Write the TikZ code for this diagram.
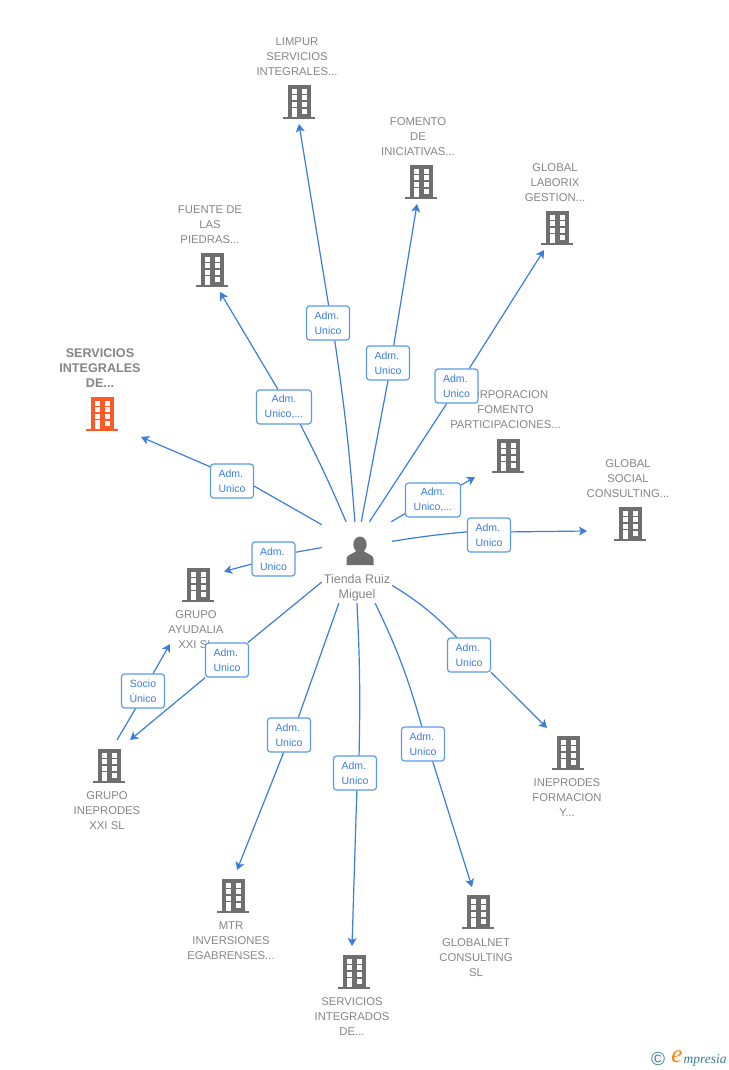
\documentclass[tikz,border=0pt]{standalone}
\usepackage{fontspec}
\setmainfont{Liberation Sans}
\newfontfamily\logofont{Liberation Serif}
\usetikzlibrary{arrows.meta,positioning}
\definecolor{linkblue}{HTML}{3B7DDD}
\definecolor{boxblue}{HTML}{5A9BEA}
\definecolor{iconGray}{HTML}{6F6F6F}
\definecolor{nameGray}{HTML}{858585}
\definecolor{mainOrange}{HTML}{FF5A26}
\definecolor{logoTeal}{HTML}{3A7C94}
\tikzset{
  bldg/.pic={
    \fill[pic actions] (-11.5,-17) rectangle (11.5,15);
    \fill[pic actions] (-16,14.7) rectangle (16,16.9);
    \foreach \wy in {-13.3,-6.6,0} {
      \fill[white] (-7,\wy) rectangle (-2,\wy+5);
      \fill[white] (2.5,\wy) rectangle (7.5,\wy+5);
    }
    \fill[white] (2.5,6.7) rectangle (7.5,11.7);
    \fill[white] (-7,6) rectangle (-2,14.7);
  },
  person/.pic={
    \fill[iconGray] (0,-6.5) ellipse (6.7 and 8);
    \fill[iconGray] (-13.5,14) -- (-13.5,8) .. controls (-13.5,3.5) and (-7,3) .. (-3.5,0) -- (3.5,0) .. controls (7,3) and (13.5,3.5) .. (13.5,8) -- (13.5,14) -- cycle;
  },
  nametxt/.style={align=center,text=nameGray,font=\fontsize{11.3}{15}\selectfont,inner sep=0pt,yshift=-1pt},
  admbox/.style={draw=boxblue,line width=1.2pt,rounded corners=3pt,fill=white,text=linkblue,
    minimum width=43pt,minimum height=34pt,inner sep=0pt,align=left,font=\fontsize{10.5}{15}\selectfont},
  admwide/.style={admbox,minimum width=55pt,align=center},
  link/.style={draw=linkblue,line width=1.2pt},
  linkto/.style={link,-{Stealth[length=8pt,width=9pt,inset=2pt]}},
}
\begin{document}
\begin{tikzpicture}[x=1pt,y=-1pt]
    \useasboundingbox (0,0) rectangle (728,1070);

    % Hub
    \node[minimum width=70pt,minimum height=81pt,inner sep=0pt] (hub) at (357,562.5) {};
    \pic at (360,551) {person};
    \node[nametxt,font=\fontsize{12.5}{15}\selectfont] (hubname) at (357,587) {Tienda Ruiz\\Miguel};

    % Companies
    \node[nametxt,font=\fontsize{12.6}{15}\selectfont\bfseries] (sinteg) at (100,367) {SERVICIOS\\INTEGRALES\\DE...};
    \pic[fill=mainOrange] at (102,414) {bldg};
    \node[nametxt] (limpur) at (297,56) {LIMPUR\\SERVICIOS\\INTEGRALES...};
    \pic[fill=iconGray] at (299,102) {bldg};
    \node[nametxt] (fomento) at (418,136) {FOMENTO\\DE\\INICIATIVAS...};
    \pic[fill=iconGray] at (421,182) {bldg};
    \node[nametxt] (laborix) at (555,182) {GLOBAL\\LABORIX\\GESTION...};
    \pic[fill=iconGray] at (557,228) {bldg};
    \node[nametxt] (fuente) at (210,224) {FUENTE DE\\LAS\\PIEDRAS...};
    \pic[fill=iconGray] at (212,270) {bldg};
    \node[nametxt] (corpora) at (505.5,409) {CORPORACION\\FOMENTO\\PARTICIPACIONES...};
    \pic[fill=iconGray] at (508,456) {bldg};
    \node[nametxt] (gsocial) at (628,478) {GLOBAL\\SOCIAL\\CONSULTING...};
    \pic[fill=iconGray] at (630,524) {bldg};
    \node[nametxt] (ayudalia) at (196,629) {GRUPO\\AYUDALIA\\XXI SL};
    \pic[fill=iconGray] at (198,585) {bldg};
    \node[nametxt] (gineprodes) at (107,810) {GRUPO\\INEPRODES\\XXI SL};
    \pic[fill=iconGray] at (109,766) {bldg};
    \node[nametxt] (mtr) at (231,940) {MTR\\INVERSIONES\\EGABRENSES...};
    \pic[fill=iconGray] at (233,896) {bldg};
    \node[nametxt] (sintegrados) at (352,1016) {SERVICIOS\\INTEGRADOS\\DE...};
    \pic[fill=iconGray] at (354,972) {bldg};
    \node[nametxt] (globalnet) at (476,957) {GLOBALNET\\CONSULTING\\SL};
    \pic[fill=iconGray] at (478,912) {bldg};
    \node[nametxt] (iformacion) at (567,797) {INEPRODES\\FORMACION\\Y...};
    \pic[fill=iconGray] at (568,753) {bldg};

    % Arrow ends
    \coordinate (endlimpur) at (299,124);
    \coordinate (endfomento) at (417,204);
    \coordinate (endlaborix) at (544,250);
    \coordinate (endfuente) at (220,292);
    \coordinate (endsinteg) at (141,437);
    \coordinate (endcorpora) at (475,477);
    \coordinate (endgsocial) at (587,531);
    \coordinate (endayudalia) at (224,571.5);
    \coordinate (endgineprodes) at (130,740);
    \coordinate (endmtr) at (237,870);
    \coordinate (endsintegrados) at (352,946);
    \coordinate (endglobalnet) at (472,887);
    \coordinate (endiformacion) at (547,728);
    \coordinate (startsocio) at (117,740);
    \coordinate (endsocio) at (170,644);

    % Labels
    \node[admbox] (lbllimpur) at (328,323) {Adm.\\Unico};
    \node[admbox] (lblfomento) at (388,363) {Adm.\\Unico};
    \node[admbox] (lbllaborix) at (456.5,386) {Adm.\\Unico};
    \node[admwide] (lblfuente) at (284,407) {Adm.\\Unico,...};
    \node[admbox] (lblsinteg) at (232,481) {Adm.\\Unico};
    \node[admwide] (lblcorpora) at (433,500) {Adm.\\Unico,...};
    \node[admbox] (lblgsocial) at (489,535) {Adm.\\Unico};
    \node[admbox] (lblayudalia) at (273.5,559) {Adm.\\Unico};
    \node[admbox] (lblgineprodes) at (227,660) {Adm.\\Unico};
    \node[admbox,align=center] (lblsocio) at (143,691) {Socio\\Único};
    \node[admbox] (lblmtr) at (289,735) {Adm.\\Unico};
    \node[admbox] (lblsintegrados) at (355,773) {Adm.\\Unico};
    \node[admbox] (lblglobalnet) at (423,744) {Adm.\\Unico};
    \node[admbox] (lbliformacion) at (469,655) {Adm.\\Unico};

    % Connectors
    \draw[link] (hub.93) to[bend right=2] (lbllimpur.291);
    \draw[linkto] (lbllimpur.88) -- (endlimpur);
    \draw[link] (hub.84) -- (lblfomento.270);
    \draw[linkto] (lblfomento.72) -- (endfomento);
    \draw[link] (hub.73.5) -- (lbllaborix.241);
    \draw[linkto] (lbllaborix.54) -- (endlaborix);
    \draw[link] (hub.105) to[bend right=2] (lblfuente.313);
    \draw[linkto] (lblfuente.109) -- (endfuente);
    \draw[link] (hub.133) -- (lblsinteg.347);
    \draw[linkto] (lblsinteg.147.5) -- (endsinteg);
    \draw[link] (hub.50) -- (lblcorpora.206.6);
    \draw[linkto] (lblcorpora.28) -- (endcorpora);
    \draw[link] (hub.31.6) to[bend left=2] (lblgsocial.172);
    \draw[linkto] (lblgsocial.8) -- (endgsocial);
    \draw[link] (hub.157.5) -- (lblayudalia.17.6);
    \draw[linkto] (lblayudalia.193) -- (endayudalia);
    \draw[link] (hub.209) -- (lblgineprodes.40.6);
    \draw[linkto] (lblgineprodes.219) -- (endgineprodes);
    \draw[link] (startsocio) -- (lblsocio.247.6);
    \draw[linkto] (lblsocio.60) -- (endsocio);
    \draw[link] (hub.246) -- (lblmtr.62);
    \draw[linkto] (lblmtr.253.6) -- (endmtr);
    \draw[link] (hub.270) to[bend left=2] (lblsintegrados.77);
    \draw[linkto] (lblsintegrados.276.6) -- (endsintegrados);
    \draw[link] (hub.294) to[bend left=5] (lblglobalnet.94);
    \draw[linkto] (lblglobalnet.299) -- (endglobalnet);
    \draw[link] (hub.327) to[bend left=7] (lbliformacion.125);
    \draw[linkto] (lbliformacion.322) -- (endiformacion);

    % Logo
    \node[inner sep=0pt,text=logoTeal,font=\fontsize{19}{19}\selectfont] (logoc) at (658,1059) {©};
    \node[inner sep=0pt,text=orange,font=\logofont\itshape\fontsize{25}{25}\selectfont] (logoe) at (677,1057) {e};
    \node[inner sep=0pt,anchor=west,text=logoTeal,font=\logofont\itshape\fontsize{13.5}{14}\selectfont] (logotxt) at (683.5,1060) {mpresia};
\end{tikzpicture}
\end{document}
